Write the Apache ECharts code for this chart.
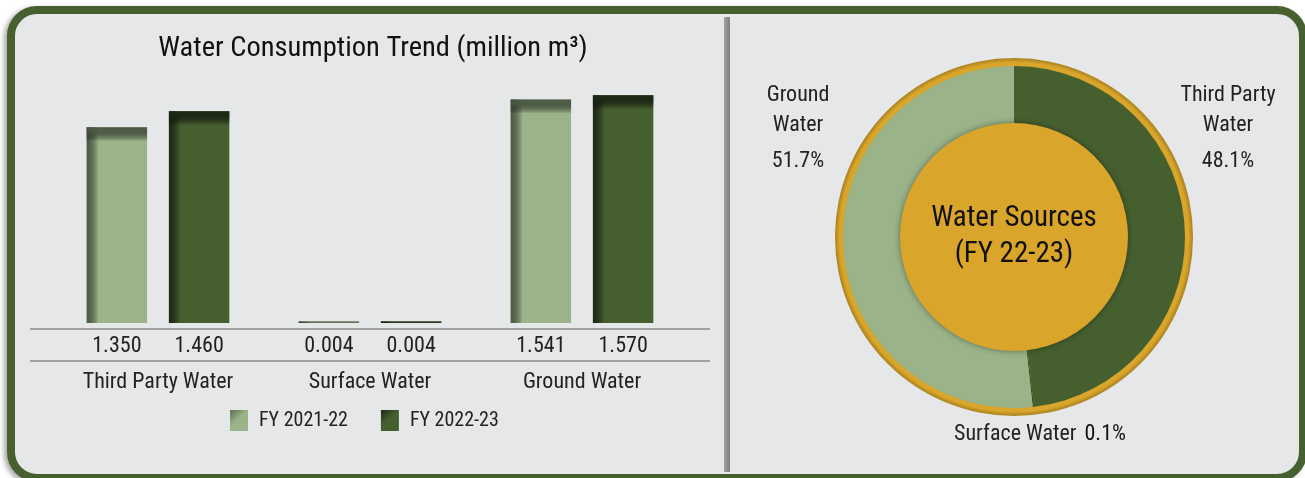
<!DOCTYPE html>
<html>
<head>
<meta charset="utf-8">
<script src="https://cdn.jsdelivr.net/npm/echarts@6/dist/echarts.min.js"></script>
<style>
  html, body { margin: 0; padding: 0; background: #fff; }
  .frame {
    position: absolute; left: 7px; top: 6px; width: 1300px; height: 476px;
    box-sizing: border-box; border: 8px solid #46602f; border-radius: 30px;
    background: #e6e7e9; box-shadow: -3px 2px 5px rgba(0,0,0,0.35);
  }
  .divider {
    position: absolute; left: 724px; top: 17px; width: 6px; height: 455px;
    background: linear-gradient(to right, #a3a3a3, #7d7d7d);
  }
  #chart { position: absolute; left: 0; top: 0; width: 1305px; height: 478px; }
</style>
</head>
<body>
<div class="frame"></div>
<div class="divider"></div>
<div id="chart"></div>
<script>
const FONT = "'Roboto Condensed', 'DejaVu Sans Condensed', sans-serif"

// 数据
const categories = ['Third Party Water', 'Surface Water', 'Ground Water']
const fy2122 = [1.350, 0.004, 1.541]
const fy2223 = [1.460, 0.004, 1.570]
const seriesNames = ['FY 2021-22', 'FY 2022-23']
const sourceNames = ['Third Party Water', 'Surface Water', 'Ground Water']
const sourceValues = [1.460, 0.004, 1.570]   // FY 22-23

const LIGHT = '#9ab389'
const DARK = '#465f2f'

const chart = echarts.init(document.getElementById('chart'))

// 柱子：主色 + 顶部/左侧内阴影
function barRenderer(side, fill, shade) {
  return function (params, api) {
    const idx = api.value(0)
    const val = api.value(1)
    const band = api.size([1, 0])[0]
    const top = api.coord([idx, val])
    const base = api.coord([idx, 0])
    const w = band * 0.285
    const cx = top[0] + side * band * 0.194
    const x = cx - w / 2
    const h = Math.max(base[1] - top[1], 1.5)
    const y = base[1] - h
    return {
      type: 'group',
      children: [
        { type: 'rect', shape: { x, y, width: w, height: h }, style: { fill } },
        {
          type: 'rect',
          shape: { x, y, width: Math.min(12, w), height: h },
          style: {
            fill: new echarts.graphic.LinearGradient(0, 0, 1, 0, [
              { offset: 0, color: shade },
              { offset: 1, color: 'rgba(0,0,0,0)' }
            ])
          }
        },
        {
          type: 'rect',
          shape: { x, y, width: w, height: Math.min(14, h) },
          style: {
            fill: new echarts.graphic.LinearGradient(0, 0, 0, 1, [
              { offset: 0, color: shade },
              { offset: 0.35, color: shade },
              { offset: 1, color: 'rgba(0,0,0,0)' }
            ])
          }
        },
        {
          type: 'text',
          style: {
            text: val.toFixed(3),
            x: cx, y: base[1] + 23,
            align: 'center', verticalAlign: 'middle',
            font: '22px ' + FONT, fill: '#222'
          }
        }
      ]
    }
  }
}

function pct(v) {
  const total = sourceValues.reduce((a, b) => a + b, 0)
  return (v / total * 100).toFixed(1) + '%'
}

const option = {
  animation: false,
  title: {
    text: 'Water Consumption Trend (million m³)',
    left: 368, top: 29, textAlign: 'center',
    textStyle: { fontFamily: FONT, fontSize: 28.5, fontWeight: 'normal', color: '#111' }
  },
  legend: {
    left: 225, top: 405,
    icon: 'rect', itemWidth: 18, itemHeight: 21, itemGap: 33,
    textStyle: { fontFamily: FONT, fontSize: 20, color: '#222', padding: [0, 0, 0, 6] },
    data: seriesNames
  },
  grid: { left: 52, top: 91, width: 636, height: 232 },
  xAxis: {
    type: 'category', data: categories,
    axisLine: { show: false }, axisTick: { show: false },
    axisLabel: { interval: 0, margin: 48, fontFamily: FONT, fontSize: 22, color: '#222' }
  },
  yAxis: { type: 'value', min: 0, max: 1.6, show: false },
  graphic: [
    { type: 'line', shape: { x1: 30, y1: 329, x2: 710, y2: 329 }, style: { stroke: '#8a8a8a', lineWidth: 1.5 } },
    { type: 'line', shape: { x1: 30, y1: 361, x2: 710, y2: 361 }, style: { stroke: '#8a8a8a', lineWidth: 1.5 } }
  ],
  series: [
    {
      name: seriesNames[0], type: 'custom',
      itemStyle: {
        color: new echarts.graphic.LinearGradient(0, 0, 1, 1, [
          { offset: 0, color: '#5d6d55' }, { offset: 0.45, color: LIGHT }, { offset: 1, color: LIGHT }
        ])
      },
      encode: { x: 0, y: 1 },
      renderItem: barRenderer(-1, LIGHT, 'rgba(70,82,62,0.9)'),
      data: fy2122.map((v, i) => [i, v])
    },
    {
      name: seriesNames[1], type: 'custom',
      itemStyle: {
        color: new echarts.graphic.LinearGradient(0, 0, 1, 1, [
          { offset: 0, color: '#1f2a16' }, { offset: 0.45, color: DARK }, { offset: 1, color: DARK }
        ])
      },
      encode: { x: 0, y: 1 },
      renderItem: barRenderer(1, DARK, 'rgba(28,38,20,0.95)'),
      data: fy2223.map((v, i) => [i, v])
    },
    // 外圈金色
    {
      type: 'pie', center: [1014, 237], radius: [0, 179], silent: true, z: 1,
      label: { show: false }, labelLine: { show: false },
      itemStyle: {
        color: new echarts.graphic.RadialGradient(0.5, 0.5, 0.5, [
          { offset: 0.9, color: '#d9a52a' },
          { offset: 0.975, color: '#d9a52a' },
          { offset: 1, color: '#a8801f' }
        ])
      },
      data: [{ value: 1, name: '' }]
    },
    // 水源环形
    {
      type: 'pie', center: [1014, 237], radius: [110, 171], z: 2,
      startAngle: 90, clockwise: true, silent: true,
      labelLine: { show: false },
      label: {
        show: true, overflow: 'none',
        fontFamily: FONT, color: '#222',
        formatter: (p) => {
          if (p.dataIndex === 0) return '{n|Third Party}\n{n|Water}\n{p|' + pct(p.value) + '}'
          if (p.dataIndex === 2) return '{n|Ground}\n{n|Water}\n{p|' + pct(p.value) + '}'
          return '{n|Surface Water}{v|' + pct(p.value) + '}'
        },
        rich: {
          n: { fontFamily: FONT, fontSize: 22, lineHeight: 30, color: '#222' },
          p: { fontFamily: FONT, fontSize: 22, lineHeight: 42, color: '#222' },
          v: { fontFamily: FONT, fontSize: 22, lineHeight: 30, color: '#111', padding: [0, 0, 0, 8] }
        }
      },
      labelLayout: (p) => {
        if (p.dataIndex === 0) return { x: 1228, y: 131, align: 'center', verticalAlign: 'middle' }
        if (p.dataIndex === 2) return { x: 798, y: 131, align: 'center', verticalAlign: 'middle' }
        return { x: 1040, y: 434, align: 'center', verticalAlign: 'middle' }
      },
      data: sourceNames.map((n, i) => ({
        name: n, value: sourceValues[i],
        itemStyle: { color: i === 0 ? DARK : i === 1 ? '#3b4f28' : LIGHT }
      }))
    },
    // 中心金色圆
    {
      type: 'pie', center: [1014, 237], radius: [0, 114], z: 3, silent: true,
      labelLine: { show: false },
      itemStyle: { color: '#d9a52a', shadowBlur: 6, shadowColor: 'rgba(0,0,0,0.4)' },
      label: {
        show: true, position: 'center',
        formatter: 'Water Sources\n(FY 22-23)',
        fontFamily: FONT, fontSize: 29, lineHeight: 36, color: '#111'
      },
      data: [{ value: 1, name: 'Water Sources' }]
    }
  ]
}

chart.setOption(option)
</script>
</body>
</html>
